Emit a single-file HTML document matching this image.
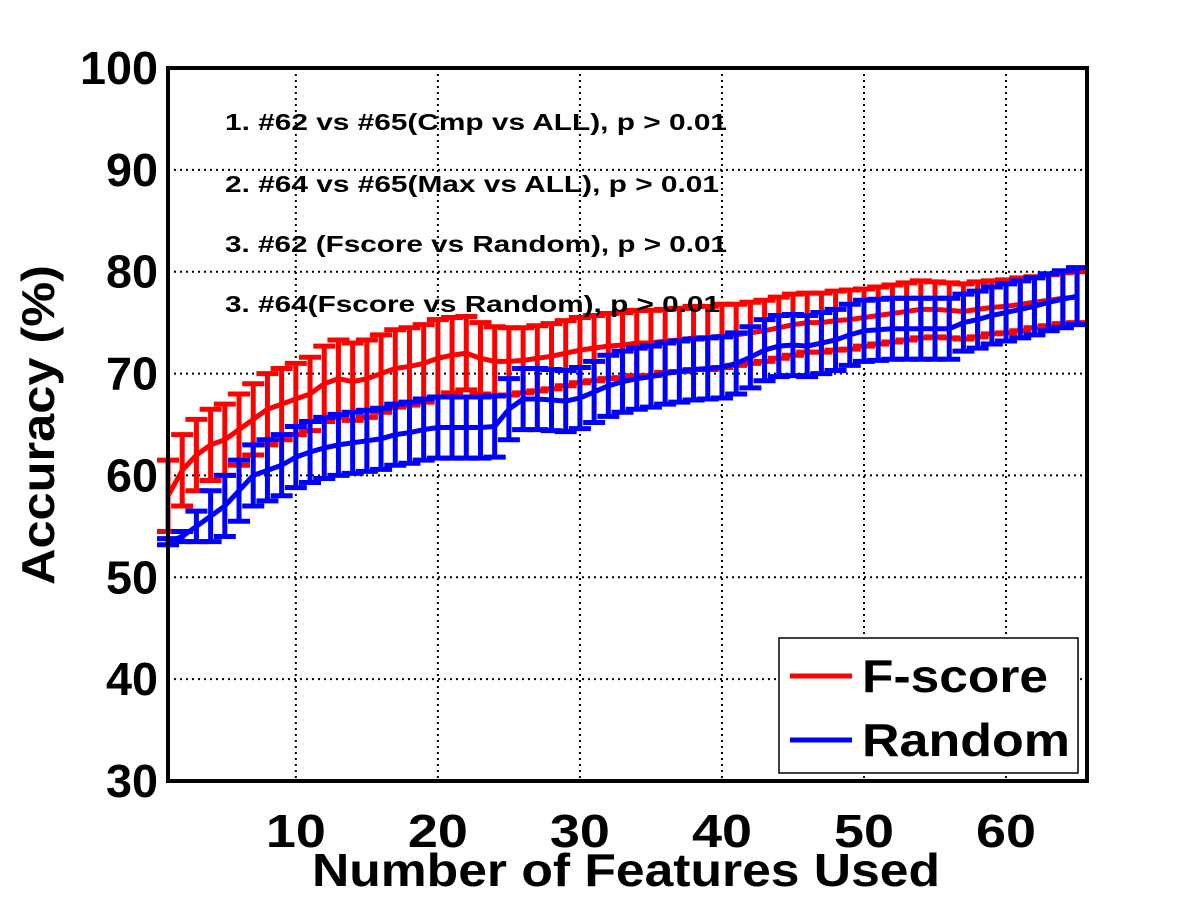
<!DOCTYPE html>
<html><head><meta charset="utf-8"><style>
body{margin:0;background:#fff;}
svg{display:block;font-family:"Liberation Sans",Arial,sans-serif;font-weight:bold;}
</style></head><body>
<svg id="chart" width="1201" height="901" viewBox="0 0 1201 901">
<rect x="0" y="0" width="1201" height="901" fill="#fff"/>
<g id="grid"></g>
<g id="series"></g>
<rect x="168" y="68" width="919" height="713" fill="none" stroke="#000" stroke-width="4"/>
<g id="ticks"></g>
<g font-size="23">
<text x="225" y="130" textLength="502" lengthAdjust="spacingAndGlyphs">1. #62 vs #65(Cmp vs ALL), p &gt; 0.01</text>
<text x="225" y="192" textLength="494" lengthAdjust="spacingAndGlyphs">2. #64 vs #65(Max vs ALL), p &gt; 0.01</text>
<text x="225" y="252" textLength="502" lengthAdjust="spacingAndGlyphs">3. #62 (Fscore vs Random), p &gt; 0.01</text>
<text x="225" y="312" textLength="495" lengthAdjust="spacingAndGlyphs">3. #64(Fscore vs Random), p &gt; 0.01</text>
</g>
<g>
<rect x="779" y="638" width="299" height="135" fill="#fff" stroke="#000" stroke-width="1.5"/>
<line x1="790" y1="676" x2="852" y2="676" stroke="#f00" stroke-width="5"/>
<text x="862" y="692" font-size="46" textLength="186" lengthAdjust="spacingAndGlyphs">F-score</text>
<line x1="790" y1="740" x2="852" y2="740" stroke="#00f" stroke-width="5"/>
<text x="862" y="756" font-size="46" textLength="208" lengthAdjust="spacingAndGlyphs">Random</text>
</g>
<text x="312" y="886" font-size="46" textLength="628" lengthAdjust="spacingAndGlyphs">Number of Features Used</text>
<text transform="translate(54,585) rotate(-90)" font-size="46" textLength="320" lengthAdjust="spacingAndGlyphs">Accuracy (%)</text>
</svg>
<script>
const xTicks=[10,20,30,40,50,60];
const yTicks=[30,40,50,60,70,80,90,100];
const fscoreMean=[58,60.5,62,63,63.5,64.5,65.5,66.5,67,67.5,68,69,69.5,69.2,69.5,70,70.5,70.7,71,71.5,71.8,72,71.5,71.2,71.2,71.3,71.5,71.7,72,72.3,72.5,72.7,72.8,73,73,73.2,73.3,73.5,73.5,73.7,73.8,74,74.2,74.5,74.8,75,75,75.2,75.3,75.5,75.7,75.9,76.1,76.3,76.3,76.2,76.1,76.3,76.5,76.6,76.8,77,77.2,77.4,77.5];
const fscoreErr=[3.5,3.5,3.5,3.5,3.5,3.5,3.5,3.5,3.5,3.5,3.6,3.7,3.8,3.8,3.8,3.8,3.8,3.8,3.8,3.8,3.7,3.6,3.5,3.4,3.3,3.2,3.2,3.2,3.2,3.2,3.2,3.2,3.2,3.2,3.2,3.1,3.1,3.1,3.1,3.1,3,3,3,3,3,2.9,2.9,2.9,2.9,2.8,2.8,2.8,2.8,2.8,2.7,2.7,2.7,2.7,2.6,2.6,2.6,2.5,2.5,2.5,2.5];
const randomMean=[53.5,54,55,56,57,58.5,60,60.5,61,61.8,62.3,62.7,63,63.2,63.4,63.6,64,64.2,64.5,64.7,64.7,64.7,64.7,64.8,66.5,67.5,67.5,67.4,67.3,67.6,68.2,68.8,69.2,69.5,69.7,70,70.2,70.4,70.5,70.6,71,71.6,72.3,72.7,72.8,72.7,73,73.3,73.8,74.2,74.3,74.4,74.4,74.4,74.4,74.4,75,75.3,75.7,76,76.3,76.6,77,77.3,77.6];
const randomErr=[0.3,0.5,1.5,2.5,3,3,3,3,3,3,3,3,3,3,3,3,3,3,3,3,3,3,3,3,3,3,3,3,3,3,3,3,3,3,3,3,3,3,3,3,3,3,3,3,3,3,3,3,3,3,3,3,3,3,3,3,2.8,2.8,2.8,2.8,2.8,2.8,2.8,2.8,2.8];
const NS='http://www.w3.org/2000/svg';
const X0=168,X1=1087,Y0=781,Y1=68,XMIN=1,XMAX=65.7,YMIN=30,YMAX=100;
function xs(v){return X0+(v-XMIN)/(XMAX-XMIN)*(X1-X0);}
function ys(v){return Y0-(v-YMIN)/(YMAX-YMIN)*(Y0-Y1);}
function mk(tag,attrs,parent){const e=document.createElementNS(NS,tag);for(const k in attrs)e.setAttribute(k,attrs[k]);parent.appendChild(e);return e;}
const grid=document.getElementById('grid'),ticks=document.getElementById('ticks'),series=document.getElementById('series');
xTicks.forEach(t=>{
  const g=mk('line',{x1:xs(t),x2:xs(t),y1:Y1,y2:Y0,stroke:'#000','stroke-width':2,'stroke-dasharray':'2 4'},grid);
  
  
  const w=String(t).length*30;
  const l=mk('text',{x:xs(t)-w/2,y:847,'font-size':46,textLength:w,lengthAdjust:'spacingAndGlyphs'},ticks);
  l.textContent=t;
  
  
});
yTicks.forEach(t=>{
  if(t>YMIN&&t<YMAX){
  const g=mk('line',{x1:X0,x2:X1,y1:ys(t),y2:ys(t),stroke:'#000','stroke-width':2,'stroke-dasharray':'2 4'},grid);
  
  }
  const w=String(t).length*26;
  const l=mk('text',{x:158-w,y:ys(t)+16,'font-size':46,textLength:w,lengthAdjust:'spacingAndGlyphs'},ticks);
  l.textContent=t;
  
  
});
function draw(mean,err,color,name){
  const g=mk('g',{},series);
  
  
  mean.forEach((m,i)=>{
    const x=xs(i+1),e=err[i];
    const b=mk('path',{d:`M${x},${ys(m-e)}V${ys(m+e)}M${x-11},${ys(m-e)}H${x+11}M${x-11},${ys(m+e)}H${x+11}`,stroke:color,'stroke-width':5,fill:'none'},g);
    
    
  });
  const p=mk('polyline',{points:mean.map((m,i)=>xs(i+1)+','+ys(m)).join(' '),stroke:color,'stroke-width':5,fill:'none'},g);
  
  
}
draw(fscoreMean,fscoreErr,'#f00','fscore');
draw(randomMean,randomErr,'#00f','random');
</script>
</body></html>
